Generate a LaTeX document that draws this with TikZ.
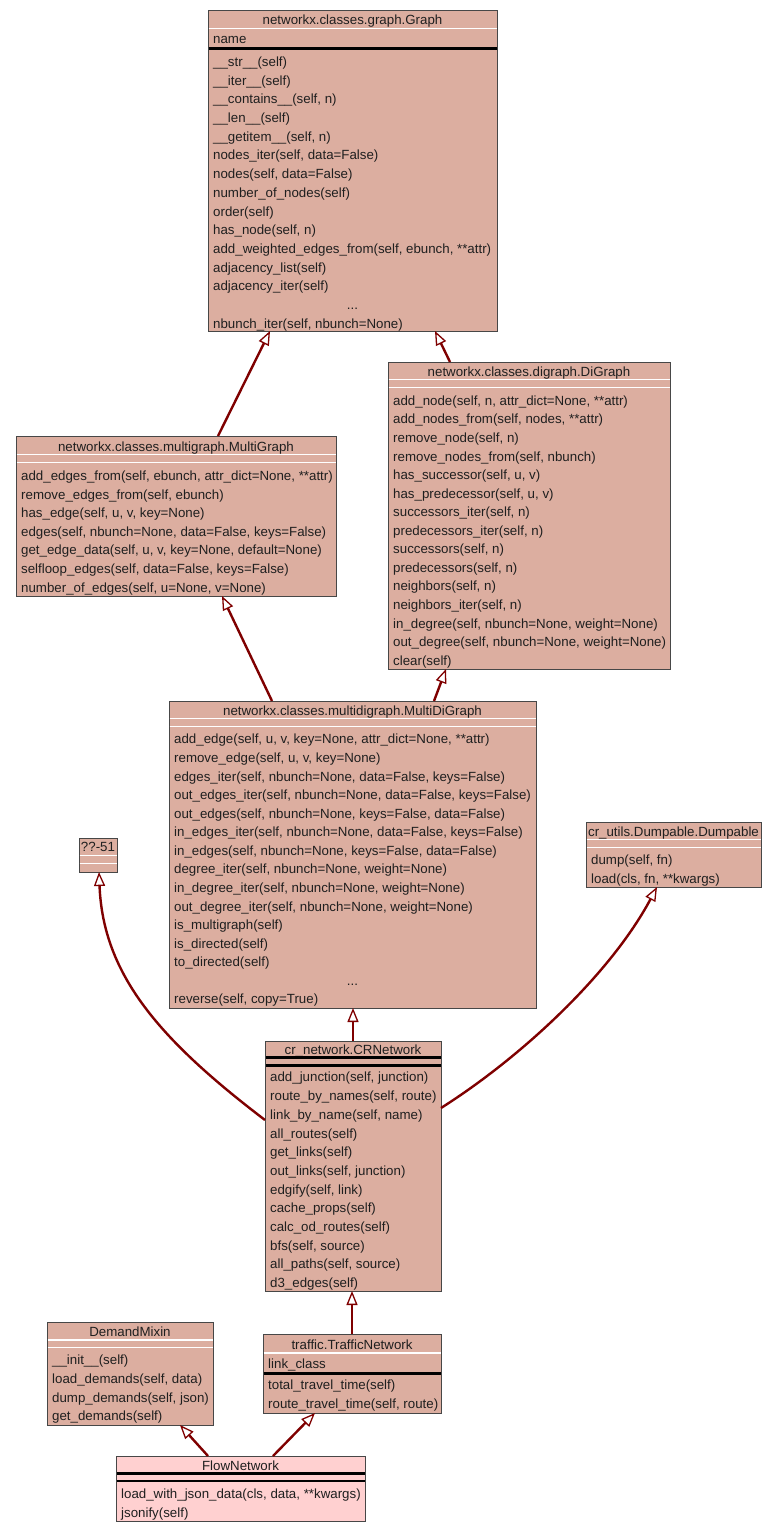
\documentclass[tikz,border=0pt]{standalone}
\usepackage{fontspec}
\setmainfont{Liberation Sans}
\usetikzlibrary{arrows.meta,calc}
\definecolor{boxfill}{HTML}{DCAEA0}
\definecolor{leaffill}{HTML}{FFD0D0}
\definecolor{edgered}{HTML}{7F0000}
\begin{document}
\begin{tikzpicture}[x=1pt,y=-1pt,
  cls/.style={draw=black!72, line width=0.9pt, fill=boxfill, inner sep=0pt, outer sep=0pt, anchor=north west},
  mrow/.style={font=\fontsize{13.3}{15}\selectfont, text=black!88, inner sep=0pt, text height=9.6pt, text depth=2.8pt, anchor=west, yshift=-1.5pt},
  ttl/.style={mrow, anchor=center},
  sepw/.style={draw=white, line width=1.4pt},
  sepb/.style={draw=black, line width=2.2pt},
  inh/.style={draw=edgered, line width=2.4pt, -{Triangle[length=14pt,width=11pt,fill=white,line width=1.3pt]}}]

\fill[white] (0,0) rectangle (776,1533);
\useasboundingbox (0,0) rectangle (776,1533);

% ---- networkx.classes.graph.Graph
\node[cls, minimum width=289pt, minimum height=321pt] (graph) at (208,10) {};
\node[ttl] at (352.5,19.5) {networkx.classes.graph.Graph};
\draw[sepw] (208.5,28.5) -- (496.5,28.5);
\node[mrow] at (213,39) {name};
\draw[sepb] (208.5,48.5) -- (496.5,48.5);
\foreach \t [count=\i from 0] in {
  {\_\_str\_\_(self)}, {\_\_iter\_\_(self)}, {\_\_contains\_\_(self, n)}, {\_\_len\_\_(self)},
  {\_\_getitem\_\_(self, n)}, {nodes\_iter(self, data=False)}, {nodes(self, data=False)},
  {number\_of\_nodes(self)}, {order(self)}, {has\_node(self, n)},
  {add\_weighted\_edges\_from(self, ebunch, **attr)}, {adjacency\_list(self)}, {adjacency\_iter(self)}}
  \node[mrow] at (213,61.5+\i*18.7) {\t};
\node[ttl] at (352.5,304.6) {...};
\node[mrow] at (213,323.3) {nbunch\_iter(self, nbunch=None)};

% ---- networkx.classes.digraph.DiGraph
\node[cls, minimum width=282pt, minimum height=307pt] (dg) at (388,362) {};
\node[ttl] at (529,372) {networkx.classes.digraph.DiGraph};
\draw[sepw] (388.5,379.5) -- (669.5,379.5);
\draw[sepw] (388.5,387.5) -- (669.5,387.5);
\foreach \t [count=\i from 0] in {
  {add\_node(self, n, attr\_dict=None, **attr)}, {add\_nodes\_from(self, nodes, **attr)},
  {remove\_node(self, n)}, {remove\_nodes\_from(self, nbunch)}, {has\_successor(self, u, v)},
  {has\_predecessor(self, u, v)}, {successors\_iter(self, n)}, {predecessors\_iter(self, n)},
  {successors(self, n)}, {predecessors(self, n)}, {neighbors(self, n)}, {neighbors\_iter(self, n)},
  {in\_degree(self, nbunch=None, weight=None)}, {out\_degree(self, nbunch=None, weight=None)},
  {clear(self)}}
  \node[mrow] at (393,400.5+\i*18.55) {\t};

% ---- networkx.classes.multigraph.MultiGraph
\node[cls, minimum width=320pt, minimum height=160pt] (mg) at (16,436) {};
\node[ttl] at (176,447) {networkx.classes.multigraph.MultiGraph};
\draw[sepw] (16.5,454.5) -- (335.5,454.5);
\draw[sepw] (16.5,462.5) -- (335.5,462.5);
\foreach \t [count=\i from 0] in {
  {add\_edges\_from(self, ebunch, attr\_dict=None, **attr)}, {remove\_edges\_from(self, ebunch)},
  {has\_edge(self, u, v, key=None)}, {edges(self, nbunch=None, data=False, keys=False)},
  {get\_edge\_data(self, u, v, key=None, default=None)}, {selfloop\_edges(self, data=False, keys=False)},
  {number\_of\_edges(self, u=None, v=None)}}
  \node[mrow] at (21,475.5+\i*18.6) {\t};

% ---- networkx.classes.multidigraph.MultiDiGraph
\node[cls, minimum width=367pt, minimum height=307pt] (mdg) at (169,701) {};
\node[ttl] at (352.5,711) {networkx.classes.multidigraph.MultiDiGraph};
\draw[sepw] (169.5,718.5) -- (535.5,718.5);
\draw[sepw] (169.5,726.5) -- (535.5,726.5);
\foreach \t [count=\i from 0] in {
  {add\_edge(self, u, v, key=None, attr\_dict=None, **attr)}, {remove\_edge(self, u, v, key=None)},
  {edges\_iter(self, nbunch=None, data=False, keys=False)},
  {out\_edges\_iter(self, nbunch=None, data=False, keys=False)},
  {out\_edges(self, nbunch=None, keys=False, data=False)},
  {in\_edges\_iter(self, nbunch=None, data=False, keys=False)},
  {in\_edges(self, nbunch=None, keys=False, data=False)},
  {degree\_iter(self, nbunch=None, weight=None)}, {in\_degree\_iter(self, nbunch=None, weight=None)},
  {out\_degree\_iter(self, nbunch=None, weight=None)}, {is\_multigraph(self)}, {is\_directed(self)},
  {to\_directed(self)}}
  \node[mrow] at (174,739+\i*18.57) {\t};
\node[ttl] at (352.5,980.4) {...};
\node[mrow] at (174,999) {reverse(self, copy=True)};

% ---- ??-51
\node[cls, minimum width=38pt, minimum height=34pt] (q51) at (79,838) {};
\node[ttl] at (98,847) {??-51};
\draw[sepw] (79.5,855.5) -- (116.5,855.5);
\draw[sepw] (79.5,863.5) -- (116.5,863.5);

% ---- cr_utils.Dumpable.Dumpable
\node[cls, minimum width=175pt, minimum height=65pt] (dump) at (586,822) {};
\node[ttl] at (673.5,832) {cr\_utils.Dumpable.Dumpable};
\draw[sepw] (586.5,839.5) -- (760.5,839.5);
\draw[sepw] (586.5,847.5) -- (760.5,847.5);
\node[mrow] at (591,860) {dump(self, fn)};
\node[mrow] at (591,878.5) {load(cls, fn, **kwargs)};

% ---- cr_network.CRNetwork
\node[cls, minimum width=176pt, minimum height=250pt] (cr) at (265,1041) {};
\node[ttl] at (353,1050) {cr\_network.CRNetwork};
\draw[sepb] (265.5,1057.5) -- (440.5,1057.5);
\draw[sepb] (265.5,1065.5) -- (440.5,1065.5);
\foreach \t [count=\i from 0] in {
  {add\_junction(self, junction)}, {route\_by\_names(self, route)}, {link\_by\_name(self, name)},
  {all\_routes(self)}, {get\_links(self)}, {out\_links(self, junction)}, {edgify(self, link)},
  {cache\_props(self)}, {calc\_od\_routes(self)}, {bfs(self, source)}, {all\_paths(self, source)},
  {d3\_edges(self)}}
  \node[mrow] at (270,1077+\i*18.7) {\t};

% ---- DemandMixin
\node[cls, minimum width=166pt, minimum height=103pt] (dm) at (47,1322) {};
\node[ttl] at (130,1332) {DemandMixin};
\draw[sepw] (47.5,1340) -- (212.5,1340);
\draw[sepw] (47.5,1347.5) -- (212.5,1347.5);
\foreach \t [count=\i from 0] in {
  {\_\_init\_\_(self)}, {load\_demands(self, data)}, {dump\_demands(self, json)}, {get\_demands(self)}}
  \node[mrow] at (52,1359.5+\i*18.8) {\t};

% ---- traffic.TrafficNetwork
\node[cls, minimum width=178pt, minimum height=79pt] (tn) at (263,1334) {};
\node[ttl] at (352,1344.5) {traffic.TrafficNetwork};
\draw[sepw] (263.5,1353) -- (440.5,1353);
\node[mrow] at (268,1364) {link\_class};
\draw[sepb] (263.5,1373.5) -- (440.5,1373.5);
\node[mrow] at (268,1385) {total\_travel\_time(self)};
\node[mrow] at (268,1404) {route\_travel\_time(self, route)};

% ---- FlowNetwork
\node[cls, fill=leaffill, minimum width=249pt, minimum height=65pt] (fn) at (116,1456) {};
\node[ttl] at (240.5,1466) {FlowNetwork};
\draw[sepb] (116.5,1473.5) -- (364.5,1473.5);
\draw[sepb] (116.5,1481) -- (364.5,1481);
\node[mrow] at (121,1494) {load\_with\_json\_data(cls, data, **kwargs)};
\node[mrow] at (121,1512.5) {jsonify(self)};

% ---- inheritance arrows
\draw[inh] ($(mg.north west)+(202,0)$) -- ($(graph.south west)+(62,0)$);
\draw[inh] ($(dg.north west)+(62,0)$) -- ($(graph.south west)+(227,0)$);
\draw[inh] ($(mdg.north west)+(103,0)$) -- ($(mg.south west)+(206,0)$);
\draw[inh] ($(mdg.north west)+(265,0)$) -- ($(dg.south west)+(58,0)$);
\draw[inh] (cr.north) -- (cr.north |- mdg.south);
\draw[inh] (tn.north) -- (tn.north |- cr.south);
\draw[inh] ($(fn.north west)+(92,0)$) -- ($(dm.south west)+(133,0)$);
\draw[inh] ($(fn.north west)+(157,0)$) -- ($(tn.south west)+(52,0)$);
\draw[inh] ($(cr.north west)+(0,79)$) .. controls (160,1040) and (103,975) .. ($(q51.south)+(1,0)$);
\draw[inh] ($(cr.north east)+(0,67)$) .. controls (520,1058) and (610,975) .. ($(dump.south west)+(71,0)$);
\end{tikzpicture}
\end{document}
